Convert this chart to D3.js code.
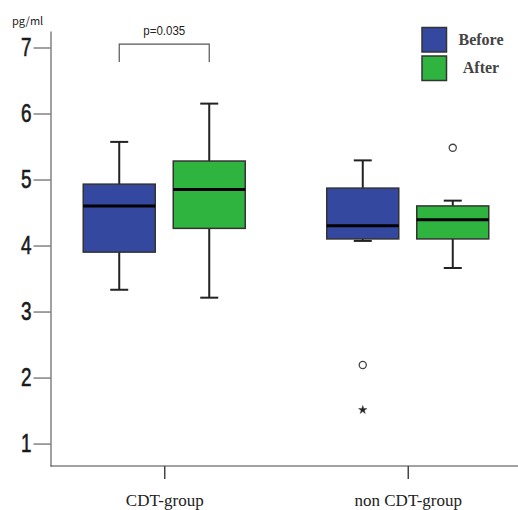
<!DOCTYPE html>
<html>
<head>
<meta charset="utf-8">
<script src="https://cdn.jsdelivr.net/npm/d3@7"></script>
<style>
  body { margin: 0; background: #fff; }
  svg { display: block; }
</style>
</head>
<body>
<svg id="chart"></svg>
<script>
/* data */
var groups = ["CDT-group", "non CDT-group"];
var phases = ["Before", "After"];
var phaseColors = ["#3448a0", "#30b440"];
var yTicks = [1, 2, 3, 4, 5, 6, 7];

// [group, phase, whiskerLow, q1, median, q3, whiskerHigh]
var boxStats = [
    ["CDT-group", "Before", 3.33, 3.90, 4.60, 4.93, 5.57],
    ["CDT-group", "After", 3.21, 4.26, 4.85, 5.28, 6.15],
    ["non CDT-group", "Before", 4.07, 4.10, 4.30, 4.87, 5.29],
    ["non CDT-group", "After", 3.66, 4.10, 4.39, 4.60, 4.68]
];
// [group, phase, value, kind]
var outliers = [
    ["non CDT-group", "Before", 2.19, "circle"],
    ["non CDT-group", "Before", 1.51, "star"],
    ["non CDT-group", "After", 5.48, "circle"]
];
var pText = "p=0.035";
var unitText = "pg/ml";

var W = 518, H = 510;
var svg = d3.select('#chart').attr('width', W).attr('height', H);

var axisX = 50.5, axisBottom = 466;

var y = d3.scaleLinear().domain([0.66, 7.25]).range([axisBottom, 31]);
var x = d3.scalePoint().domain(groups).range([51, 521]).padding(0.465);
var inner = d3.scaleBand().domain(phases).range([-90, 90]).paddingInner(0.2).paddingOuter(0.1);
var color = d3.scaleOrdinal().domain(phases).range(phaseColors);

function cx(g, p){ return x(g) + inner(p) + inner.bandwidth() / 2; }

/* axes */
var yAxis = svg.append('g')
    .attr('transform', `translate(${axisX},0)`)
    .call(d3.axisLeft(y).tickValues(yTicks).tickFormat(d3.format('d'))
        .tickSize(17).tickPadding(2).tickSizeOuter(0));
yAxis.select('.domain').attr('stroke', '#444');
yAxis.selectAll('.tick line').attr('stroke', '#444');
yAxis.selectAll('.tick text')
    .attr('font-family', '"Liberation Sans", Arial, sans-serif')
    .attr('font-size', 25)
    .attr('textLength', 10.5)
    .attr('lengthAdjust', 'spacingAndGlyphs')
    .attr('fill', '#1a1a1a')
    .attr('stroke', '#1a1a1a')
    .attr('stroke-width', 0.6);

var xAxis = svg.append('g')
    .attr('transform', `translate(0,${axisBottom})`)
    .call(d3.axisBottom(x).tickSize(13).tickPadding(15).tickSizeOuter(0));
xAxis.select('.domain').attr('stroke', '#444').attr('d', `M${axisX},0H${W}`);
xAxis.selectAll('.tick line').attr('stroke', '#444').attr('stroke-width', 1.5);
xAxis.selectAll('.tick text')
    .attr('font-family', '"Liberation Serif", "DejaVu Serif", serif')
    .attr('font-size', 17)
    .attr('fill', '#222');

svg.append('text')
    .attr('x', 12).attr('y', 25)
    .attr('font-family', '"Noto Sans CJK JP", sans-serif')
    .attr('font-size', 11)
    .attr('fill', '#222')
    .text(unitText);

/* boxes */
var box = svg.selectAll('g.box')
    .data(boxStats)
    .enter()
    .append('g')
    .attr('class', 'box');

var capW = 18;
box.append('line')
    .attr('x1', d => cx(d[0], d[1])).attr('x2', d => cx(d[0], d[1]))
    .attr('y1', d => y(d[2])).attr('y2', d => y(d[6]))
    .attr('stroke', '#222').attr('stroke-width', 2);
box.append('line')
    .attr('x1', d => cx(d[0], d[1]) - capW / 2).attr('x2', d => cx(d[0], d[1]) + capW / 2)
    .attr('y1', d => y(d[2])).attr('y2', d => y(d[2]))
    .attr('stroke', '#222').attr('stroke-width', 2);
box.append('line')
    .attr('x1', d => cx(d[0], d[1]) - capW / 2).attr('x2', d => cx(d[0], d[1]) + capW / 2)
    .attr('y1', d => y(d[6])).attr('y2', d => y(d[6]))
    .attr('stroke', '#222').attr('stroke-width', 2);
box.append('rect')
    .attr('x', d => x(d[0]) + inner(d[1]))
    .attr('y', d => y(d[5]))
    .attr('width', inner.bandwidth())
    .attr('height', d => y(d[3]) - y(d[5]))
    .attr('fill', d => color(d[1]))
    .attr('stroke', '#333').attr('stroke-width', 1.5);
box.append('line')
    .attr('x1', d => x(d[0]) + inner(d[1])).attr('x2', d => x(d[0]) + inner(d[1]) + inner.bandwidth())
    .attr('y1', d => y(d[4])).attr('y2', d => y(d[4]))
    .attr('stroke', '#000').attr('stroke-width', 3);

/* outliers */
svg.selectAll('path.outlier')
    .data(outliers)
    .enter()
    .append('path')
    .attr('class', 'outlier')
    .attr('transform', d => `translate(${cx(d[0], d[1])},${y(d[2])})`)
    .attr('d', d => d[3] === 'star' ? d3.symbol(d3.symbolStar, 22)() : d3.symbol(d3.symbolCircle, 40)())
    .attr('fill', d => d[3] === 'star' ? '#222' : '#fff')
    .attr('stroke', '#444')
    .attr('stroke-width', d => d[3] === 'star' ? 0.5 : 1.3);

/* significance bracket */
var bx1 = cx(groups[0], phases[0]), bx2 = cx(groups[0], phases[1]);
var bTop = y(7.05), bLow = y(6.78);
svg.append('path')
    .attr('d', `M${bx1},${bLow}V${bTop}H${bx2}V${bLow}`)
    .attr('fill', 'none').attr('stroke', '#555').attr('stroke-width', 1.2);
svg.append('text')
    .attr('x', (bx1 + bx2) / 2).attr('y', 35)
    .attr('text-anchor', 'middle')
    .attr('font-family', '"Liberation Sans", Arial, sans-serif')
    .attr('font-size', 12)
    .attr('textLength', 42)
    .attr('lengthAdjust', 'spacingAndGlyphs')
    .attr('fill', '#222')
    .text(pText);

/* legend */
var legend = svg.selectAll('g.legend')
    .data(phases)
    .enter()
    .append('g')
    .attr('class', 'legend')
    .attr('transform', (d, i) => `translate(422,${27.5 + i * 28.5})`);
legend.append('rect')
    .attr('width', 24.5).attr('height', 24.5)
    .attr('fill', d => color(d))
    .attr('stroke', '#333').attr('stroke-width', 1.5);
legend.append('text')
    .attr('x', 59).attr('y', 17)
    .attr('text-anchor', 'middle')
    .attr('font-family', '"Liberation Serif", "DejaVu Serif", serif')
    .attr('font-size', 16)
    .attr('font-weight', 'bold')
    .attr('fill', '#444')
    .text(d => d);
</script>
</body>
</html>
